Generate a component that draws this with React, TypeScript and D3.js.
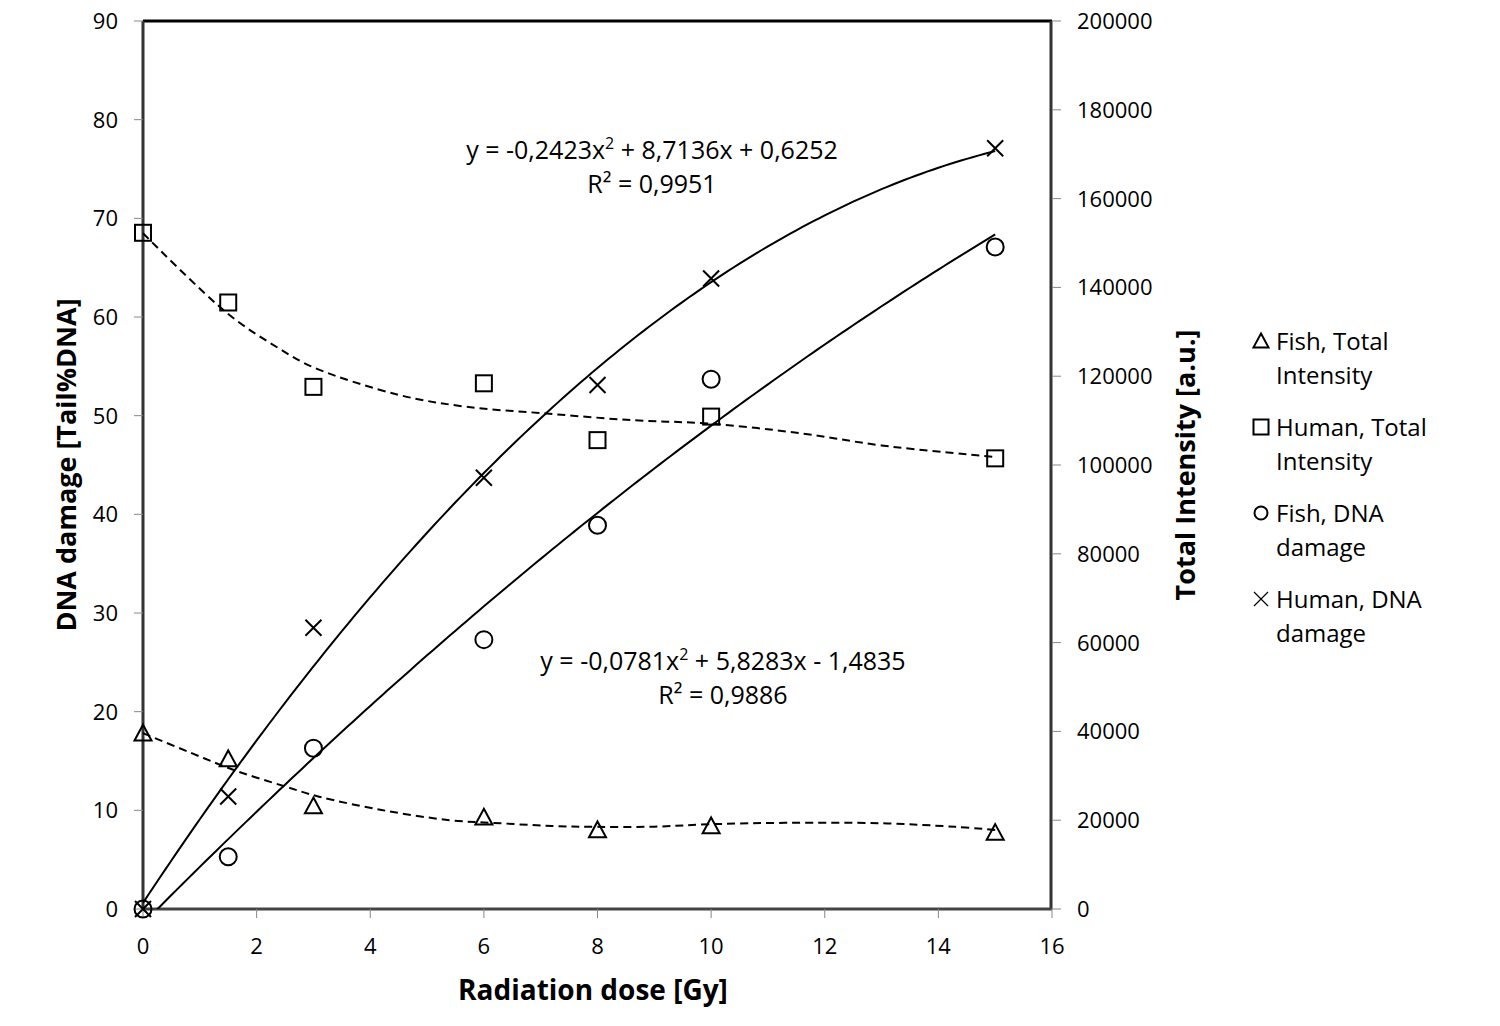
import React from "react";
import * as d3 from "d3";

// ---- data ----
const dose = [0, 1.5, 3, 6, 8, 10, 15];
const fishIntensity = [39600, 33800, 23200, 20650, 17800, 18700, 17200];
const humanIntensity = [152300, 136600, 117600, 118400, 105600, 110900, 101500];
const fishDNA = [0, 5.3, 16.3, 27.3, 38.9, 53.7, 67.1];
const humanDNA = [0, 11.4, 28.5, 43.7, 53.1, 63.9, 77.1];

// dashed trend lines (right axis units)
const fishTrendX = [0, 0.8, 1.6, 2.5, 3.1, 4.2, 5.4, 6.3, 7.2, 8, 9, 10, 11.3, 13, 14.3, 15];
const fishTrendY = [39600, 35400, 31300, 27600, 25300, 22300, 20000, 19300, 18700, 18500, 18550, 19100, 19400, 19300, 18500, 17800];
const humanTrendX = [0, 1.5, 2.4, 3, 4.5, 5.7, 7.1, 8.6, 10, 11.6, 13, 15];
const humanTrendY = [152200, 134000, 126200, 122000, 115800, 113100, 111600, 110100, 109300, 107100, 104400, 101800];

// polynomial trendline coefficients as printed on the chart [a, b, c]
const humanDNAFit = [-0.2423, 8.7136, 0.6252];
const fishDNAFit = [-0.0781, 5.8283, -1.4835];

const xTicks = [0, 2, 4, 6, 8, 10, 12, 14, 16];
const leftTicks = [0, 10, 20, 30, 40, 50, 60, 70, 80, 90];
const rightTicks = [0, 20000, 40000, 60000, 80000, 100000, 120000, 140000, 160000, 180000, 200000];
const legendLabels = [
  ["Fish, Total", "Intensity"],
  ["Human, Total", "Intensity"],
  ["Fish, DNA", "damage"],
  ["Human, DNA", "damage"],
];

const FONT = "'Open Sans', Lato, sans-serif";

const L = 143, R = 1052, T = 21, B = 909;

function Marker({ kind, x, y, s }: { kind: string; x: number; y: number; s: number }) {
  const h = s / 2;
  const common = { fill: "none", stroke: "#000", strokeWidth: 2 };
  if (kind === "tri")
    return <path d={`M${x},${y - h}L${x + h},${y + h * 0.85}L${x - h},${y + h * 0.85}Z`} {...common} />;
  if (kind === "sq") return <rect x={x - h} y={y - h} width={s} height={s} {...common} />;
  if (kind === "circ") return <circle cx={x} cy={y} r={h} {...common} />;
  return <path d={`M${x - h},${y - h}L${x + h},${y + h}M${x + h},${y - h}L${x - h},${y + h}`} {...common} />;
}

export default function App() {
  const x = d3.scaleLinear().domain([0, 16]).range([L, R]);
  const yL = d3.scaleLinear().domain([0, 90]).range([B, T]);
  const yR = d3.scaleLinear().domain([0, 200000]).range([B, T]);

  const poly = (c: number[]) => (v: number) => c[0] * v * v + c[1] * v + c[2];
  const sample = d3.range(0, 15.001, 0.1);
  const solid = d3.line<number>().x((v) => x(v)).y((v) => yL(poly(humanDNAFit)(v)));
  const solid2 = d3.line<number>().x((v) => x(v)).y((v) => yL(poly(fishDNAFit)(v)));
  const dashLine = d3
    .line<[number, number]>()
    .x((d) => x(d[0]))
    .y((d) => yR(d[1]))
    .curve(d3.curveCatmullRom.alpha(0.5));
  const fishTrend = fishTrendX.map((v, i) => [v, fishTrendY[i]] as [number, number]);
  const humanTrend = humanTrendX.map((v, i) => [v, humanTrendY[i]] as [number, number]);

  const fmt = d3.format("d");

  return (
    <svg width={1500} height={1026} style={{ position: "absolute", left: 0, top: 0, background: "#fff" }} fontFamily={FONT}>
      <rect x={0} y={0} width={1500} height={1026} fill="#fff" />
      <defs>
        <clipPath id="plot">
          <rect x={L} y={T} width={R - L} height={B - T} />
        </clipPath>
      </defs>

      {/* plot frame */}
      <line x1={L} x2={R} y1={T} y2={T} stroke="#000" strokeWidth={3} />
      <line x1={L} x2={L} y1={T} y2={B} stroke="#333" strokeWidth={3} />
      <line x1={R - 1} x2={R - 1} y1={T} y2={B} stroke="#333" strokeWidth={3} />
      <line x1={L} x2={R} y1={B} y2={B} stroke="#444" strokeWidth={3} />

      {/* ticks left */}
      {leftTicks.map((t) => (
        <g key={"l" + t}>
          <line x1={L - 9} x2={L} y1={yL(t)} y2={yL(t)} stroke="#888" strokeWidth={1} />
          <text x={118} y={yL(t)} dy="0.36em" textAnchor="end" fontSize={22}>
            {t}
          </text>
        </g>
      ))}
      {/* ticks right */}
      {rightTicks.map((t) => (
        <g key={"r" + t}>
          <line x1={R} x2={R + 9} y1={yR(t)} y2={yR(t)} stroke="#888" strokeWidth={1} />
          <text x={1077} y={yR(t)} dy="0.36em" textAnchor="start" fontSize={22}>
            {fmt(t)}
          </text>
        </g>
      ))}
      {/* ticks x */}
      {xTicks.map((t) => (
        <g key={"x" + t}>
          <line x1={x(t)} x2={x(t)} y1={B} y2={B + 9} stroke="#888" strokeWidth={1} />
          <text x={x(t)} y={946} dy="0.36em" textAnchor="middle" fontSize={22}>
            {t}
          </text>
        </g>
      ))}

      {/* axis titles */}
      <text x={593} y={990} dy="0.36em" textAnchor="middle" fontSize={28} fontWeight="bold">
        Radiation dose [Gy]
      </text>
      <text transform="translate(66,465) rotate(-90)" dy="0.36em" textAnchor="middle" fontSize={27} fontWeight="bold">
        DNA damage [Tail%DNA]
      </text>
      <text transform="translate(1185,465) rotate(-90)" dy="0.36em" textAnchor="middle" fontSize={27} fontWeight="bold">
        Total Intensity [a.u.]
      </text>

      {/* trend lines */}
      <g clipPath="url(#plot)" fill="none" stroke="#000" strokeWidth={2}>
        <path d={solid(sample) || ""} />
        <path d={solid2(sample) || ""} />
        <path d={dashLine(fishTrend) || ""} strokeDasharray="8,5" />
        <path d={dashLine(humanTrend) || ""} strokeDasharray="8,5" />
      </g>

      {/* markers */}
      {dose.map((d, i) => (
        <g key={"m" + i}>
          <Marker kind="tri" x={x(d)} y={yR(fishIntensity[i])} s={17} />
          <Marker kind="sq" x={x(d)} y={yR(humanIntensity[i])} s={16} />
          <Marker kind="circ" x={x(d)} y={yL(fishDNA[i])} s={17} />
          <Marker kind="x" x={x(d)} y={yL(humanDNA[i])} s={16} />
        </g>
      ))}

      {/* equations */}
      <text x={652} y={159} textAnchor="middle" fontSize={25}>
        y = -0,2423x<tspan fontSize={16} dy={-10}>2</tspan>
        <tspan dy={10}> + 8,7136x + 0,6252</tspan>
      </text>
      <text x={652} y={193} textAnchor="middle" fontSize={25}>
        R² = 0,9951
      </text>
      <text x={723} y={670} textAnchor="middle" fontSize={25}>
        y = -0,0781x<tspan fontSize={16} dy={-10}>2</tspan>
        <tspan dy={10}> + 5,8283x - 1,4835</tspan>
      </text>
      <text x={723} y={704} textAnchor="middle" fontSize={25}>
        R² = 0,9886
      </text>

      {/* legend */}
      {legendLabels.map((lab, i) => {
        const cy = 341 + i * 86;
        const kinds = ["tri", "sq", "circ", "x"];
        return (
          <g key={"lg" + i}>
            {kinds[i] === "x" ? (
              <path
                d={`M${1254},${cy - 7}L${1268},${cy + 7}M${1268},${cy - 7}L${1254},${cy + 7}`}
                stroke="#000"
                strokeWidth={1.2}
                fill="none"
              />
            ) : (
              <Marker kind={kinds[i]} x={1261} y={cy} s={kinds[i] === "circ" ? 13 : 15} />
            )}
            <text x={1276} y={cy} dy="0.36em" fontSize={24}>
              {lab[0]}
            </text>
            <text x={1276} y={cy + 34} dy="0.36em" fontSize={24}>
              {lab[1]}
            </text>
          </g>
        );
      })}
    </svg>
  );
}
